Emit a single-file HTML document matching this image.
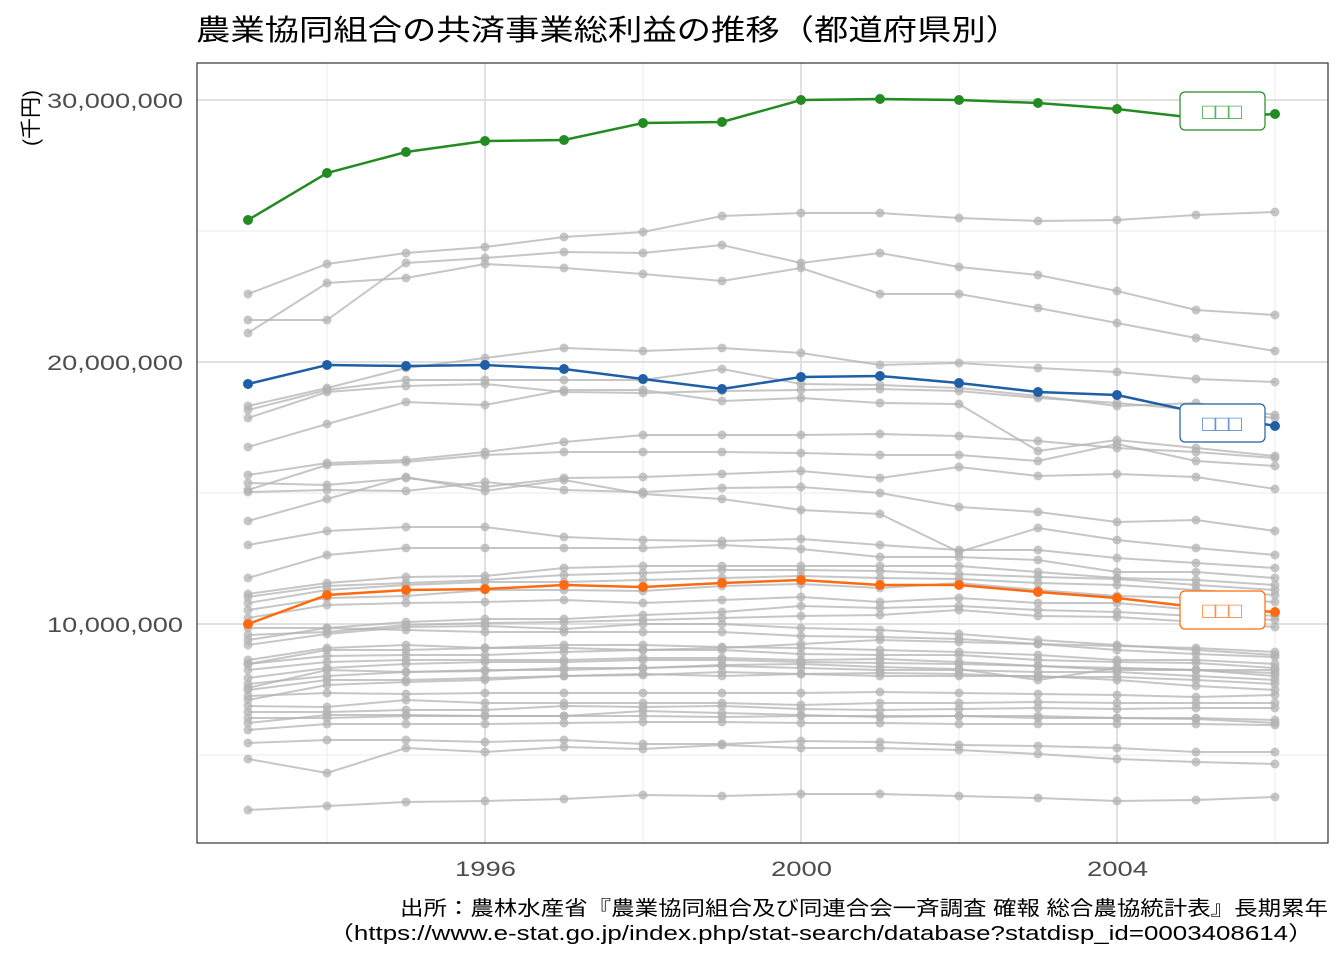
<!DOCTYPE html>
<html><head><meta charset="utf-8">
<style>
html,body{margin:0;padding:0;background:#fff;}
svg text{font-family:"Liberation Sans","Noto Sans CJK JP",sans-serif;}
</style></head>
<body>
<svg id="s" width="1344" height="960" xmlns="http://www.w3.org/2000/svg">
<rect width="1344" height="960" fill="#fff"/>
<text x="196" y="40" font-size="29" fill="#000" textLength="824" lengthAdjust="spacingAndGlyphs">農業協同組合の共済事業総利益の推移（都道府県別）</text>
<g id="grid"></g>
<g id="gray"></g>
<g id="hl"></g>
<rect x="197" y="63" width="1131" height="780" fill="none" stroke="#333" stroke-width="1.2"/>
<g font-size="21" fill="#4d4d4d">
<text x="47" y="108" textLength="136" lengthAdjust="spacingAndGlyphs">30,000,000</text>
<text x="47" y="370" textLength="136" lengthAdjust="spacingAndGlyphs">20,000,000</text>
<text x="47" y="632" textLength="136" lengthAdjust="spacingAndGlyphs">10,000,000</text>
</g>
<g font-size="21" fill="#4d4d4d">
<text x="455" y="876" textLength="61" lengthAdjust="spacingAndGlyphs">1996</text>
<text x="771" y="876" textLength="61" lengthAdjust="spacingAndGlyphs">2000</text>
<text x="1087" y="876" textLength="61" lengthAdjust="spacingAndGlyphs">2004</text>
</g>
<text transform="translate(38,118) rotate(-90)" font-size="21" text-anchor="middle" fill="#000">(千円)</text>
<g font-size="20" fill="#000">
<text x="400" y="915" textLength="928" lengthAdjust="spacingAndGlyphs">出所：農林水産省『農業協同組合及び同連合会一斉調査 確報 総合農協統計表』長期累年</text>
<text x="328" y="940" textLength="986" lengthAdjust="spacingAndGlyphs">（https://www.e-stat.go.jp/index.php/stat-search/database?statdisp_id=0003408614）</text>
</g>
</svg>
<script>
const NS="http://www.w3.org/2000/svg";
function el(p,t,a){const e=document.createElementNS(NS,t);for(const k in a)e.setAttribute(k,a[k]);p.appendChild(e);return e;}
const X=i=>248+79*i;
const grid=document.getElementById('grid');
[231,493,755].forEach(y=>el(grid,'line',{x1:197,x2:1328,y1:y,y2:y,stroke:'#ebebeb','stroke-width':1}));
[327,643,959,1275].forEach(x=>el(grid,'line',{x1:x,x2:x,y1:63,y2:843,stroke:'#ebebeb','stroke-width':1}));
[100,362,624].forEach(y=>el(grid,'line',{x1:197,x2:1328,y1:y,y2:y,stroke:'#e0e0e0','stroke-width':2}));
[485,801,1117].forEach(x=>el(grid,'line',{x1:x,x2:x,y1:63,y2:843,stroke:'#e0e0e0','stroke-width':2}));
const gray=[
[294,264,253,247,237,232,216,213,213,218,221,220,215,212],
[320,320,263,258,252,253,245,263,253,267,275,291,310,315],
[333,283,278,264,268,274,281,268,294,294,308,323,338,351],
[406,388,368,358,348,351,348,353,365,363,368,372,379,382],
[410,390,380,380,380,380,369,384,385,388,396,406,403,415],
[418,392,386,384,392,393,391,390,389,391,398,403,410,418],
[447,424,402,405,390,390,401,398,403,404,451,440,448,456],
[475,463,460,452,442,435,435,435,434,436,441,448,452,458],
[490,465,462,455,452,452,452,453,455,455,461,444,461,466],
[483,485,478,487,478,477,474,471,478,467,476,474,477,489],
[492,490,491,482,490,492,488,487,493,507,512,522,520,531],
[521,499,477,491,480,494,499,510,514,552,528,540,548,555],
[545,531,527,527,537,540,541,539,545,550,550,558,563,568],
[578,555,548,548,548,548,545,549,557,557,560,572,572,578],
[594,583,577,576,568,566,566,566,566,566,572,578,580,585],
[597,586,583,580,575,573,570,570,571,574,577,579,585,590],
[603,590,585,582,582,580,578,576,578,579,583,585,590,595],
[610,598,596,590,590,591,586,584,588,583,590,596,598,602],
[618,605,603,602,600,603,600,597,602,598,603,603,610,616],
[628,628,622,619,619,615,612,606,608,606,610,612,616,620],
[635,632,625,623,622,620,618,616,615,610,616,617,622,627],
[645,634,627,626,629,624,624,628,630,634,640,645,650,655],
[660,648,645,648,645,645,647,648,650,652,655,660,660,664],
[664,656,655,655,652,650,650,654,655,655,660,662,663,668],
[670,662,660,660,660,658,658,660,659,662,666,668,670,673],
[678,668,664,662,662,660,660,662,663,664,666,670,670,676],
[684,676,672,670,670,668,666,668,670,670,672,672,676,680],
[690,680,680,678,676,675,672,674,673,674,677,677,680,684],
[696,693,694,693,693,693,693,693,692,693,694,695,697,695],
[706,707,700,703,703,703,703,705,703,703,702,703,703,703],
[712,712,710,710,706,707,706,709,710,709,708,709,708,708],
[718,718,716,716,716,711,713,715,717,716,716,718,718,720],
[723,715,715,716,716,716,717,716,716,716,718,718,719,723],
[730,724,724,724,723,722,722,723,723,724,724,724,724,725],
[743,740,740,742,740,744,744,741,742,745,746,748,752,752],
[759,773,748,752,747,749,745,748,748,750,754,759,762,764],
[810,806,802,801,799,795,796,794,794,796,798,801,800,797],
[700,685,682,680,676,674,676,674,676,676,676,680,686,690],
[688,670,672,671,668,668,665,664,667,669,680,668,670,670],
[664,650,650,648,648,650,648,644,640,642,644,650,654,657],
[640,628,630,632,632,632,632,636,637,639,644,646,648,652]
];
const g=document.getElementById('gray');
function series(p,ys,col,w,r,op){
  el(p,'polyline',{points:ys.map((y,i)=>X(i)+','+y).join(' '),fill:'none',stroke:col,'stroke-width':w,'stroke-opacity':op});
  ys.forEach((y,i)=>el(p,'circle',{cx:X(i),cy:y,r:r,fill:col,'fill-opacity':op}));
}
gray.forEach(s=>series(g,s,'#b3b3b3',2,4.5,0.75));
const h=document.getElementById('hl');
const hs=[
 ['#228b22',[220,173,152,141,140,123,122,100,99,100,103,109,118,114],111,'#4caf50'],
 ['#1f5fa6',[384,365,366,365,369,379,389,377,376,383,392,395,412,426],423,'#5b8fd0'],
 ['#ff6a10',[624,595,590,589,585,587,583,580,585,585,592,598,607,612],610,'#ff8a40']
];
hs.forEach(([c,ys,ly,tc])=>{
  series(h,ys,c,2.5,5,1);
  el(h,'rect',{x:1180,y:ly-19,width:85,height:38,rx:5,fill:'#fff',stroke:c,'stroke-width':1.2});
  const t=el(h,'text',{x:1222,y:ly+8,'font-size':22,'text-anchor':'middle',fill:tc});
  t.textContent='□□□';
});
</script>
</body></html>
